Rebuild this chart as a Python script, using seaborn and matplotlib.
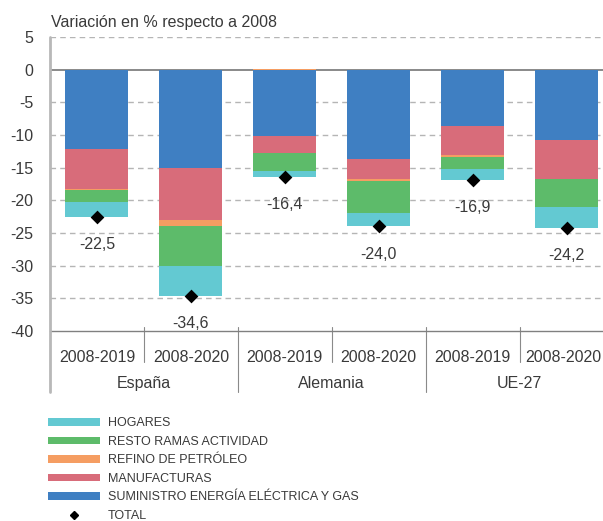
import numpy as np
import matplotlib
matplotlib.use("Agg")
import matplotlib.pyplot as plt
import matplotlib.transforms as mtransforms
import seaborn as sns
from matplotlib.patches import Patch
from matplotlib.lines import Line2D

# data (variación en % respecto a 2008)
groups = ["España", "Alemania", "UE-27"]
periods = ["2008-2019", "2008-2020"]
suministro = [-12.1, -15.0, -10.1, -13.6, -8.6, -10.8]
manufacturas = [-6.2, -8.0, -2.7, -3.1, -4.4, -5.9]
refino = [-0.05, -1.0, 0.15, -0.35, -0.4, -0.05]
resto = [-1.95, -6.0, -2.7, -4.9, -1.8, -4.3]
hogares = [-2.2, -4.6, -0.9, -2.05, -1.7, -3.15]
total = [-22.5, -34.6, -16.4, -24.0, -16.9, -24.2]

colors = {
    "HOGARES": "#63c9d2",
    "RESTO RAMAS ACTIVIDAD": "#5dbb6a",
    "REFINO DE PETRÓLEO": "#f59d62",
    "MANUFACTURAS": "#d86c7a",
    "SUMINISTRO ENERGÍA ELÉCTRICA Y GAS": "#3f7fc2",
}
txt = "#3a3a3a"
fs = 11.5

sns.set_style("white")
plt.rcParams["font.family"] = ["Liberation Sans", "DejaVu Sans"]

bar_ids = [f"{g} {p}" for g in groups for p in periods]

fig = plt.figure(figsize=(6.03, 5.21), dpi=100)
ax = fig.add_axes([50 / 603, 190 / 521, 563.5 / 603, 294 / 521])

# stack order from zero downwards
stack = [
    ("SUMINISTRO ENERGÍA ELÉCTRICA Y GAS", suministro),
    ("MANUFACTURAS", manufacturas),
    ("REFINO DE PETRÓLEO", refino),
    ("RESTO RAMAS ACTIVIDAD", resto),
    ("HOGARES", hogares),
]
neg = [np.minimum(np.array(v), 0) for _, v in stack]
cum = np.cumsum(neg, axis=0)
# draw deepest first so upper segments cover it
for i in range(len(stack) - 1, -1, -1):
    name = stack[i][0]
    sns.barplot(x=bar_ids, y=cum[i], color=colors[name], saturation=1,
                width=0.67, linewidth=0, errorbar=None, ax=ax, zorder=3)
# small positive part (refino, Alemania 2008-2019)
pos_ref = np.maximum(np.array(refino), 0)
sns.barplot(x=bar_ids, y=pos_ref, color=colors["REFINO DE PETRÓLEO"], saturation=1,
            width=0.67, linewidth=0, errorbar=None, ax=ax, zorder=3)

sns.stripplot(x=bar_ids, y=total, jitter=False, marker="D", color="black",
              size=7, ax=ax, zorder=5)
for i, v in enumerate(total):
    ax.annotate(f"{v:.1f}".replace(".", ","), (i, v), xytext=(0, -20),
                textcoords="offset points", ha="center", va="center",
                fontsize=fs, color=txt)

ax.set_xlim(-0.5, 5.5)
ax.set_ylim(-40, 5)
ax.set_yticks(range(-40, 6, 5))
ax.set_yticklabels([str(t) for t in range(-40, 6, 5)], fontsize=fs, color=txt)
for t in range(-35, 6, 5):
    if t == 0:
        ax.axhline(0, color="#808080", lw=1.3, zorder=2)
    else:
        ax.axhline(t, color="#b5b5b5", lw=1, ls=(0, (4, 3)), zorder=1)

ax.set_xticks(range(6))
ax.set_xticklabels([p for g in groups for p in periods], fontsize=fs, color=txt)
ax.tick_params(axis="x", length=0, pad=14)
ax.tick_params(axis="y", length=0, pad=12)
ax.set_xlabel("")
ax.set_ylabel("")
# last label sits at the figure edge: nudge it in a little
last = ax.get_xticklabels()[-1]
last.set_transform(last.get_transform() +
                   mtransforms.ScaledTranslation(-3 / 100, 0, fig.dpi_scale_trans))

for s in ["top", "right", "left"]:
    ax.spines[s].set_visible(False)
ax.spines["bottom"].set_color("#808080")
ax.spines["bottom"].set_linewidth(1)

tr = ax.get_xaxis_transform()
ax.plot([-0.5, -0.5], [1, -0.2075], transform=tr, color="#b8b8b8", lw=2,
        clip_on=False, zorder=4)
for k in range(1, 6):
    x = k - 0.5
    y1 = -0.2075 if k % 2 == 0 else -0.105
    ax.plot([x, x], [0.0136, y1], transform=tr, color="#8a8a8a", lw=0.8,
            clip_on=False)
for j, g in enumerate(groups):
    ax.text(2 * j + 0.5, -0.18, g, transform=tr, ha="center", va="center",
            fontsize=fs, color=txt)

fig.text(51 / 603, 1 - 22.7 / 521, "Variación en % respecto a 2008",
         ha="left", va="center", fontsize=fs, color=txt)

leg_names = ["HOGARES", "RESTO RAMAS ACTIVIDAD", "REFINO DE PETRÓLEO",
             "MANUFACTURAS", "SUMINISTRO ENERGÍA ELÉCTRICA Y GAS"]
handles = [Patch(facecolor=colors[n], edgecolor="none") for n in leg_names]
handles.append(Line2D([], [], ls="none", marker="D", color="black", markersize=4.5))
leg = fig.legend(handles, leg_names + ["TOTAL"], loc="upper left",
                 bbox_to_anchor=(48 / 603, 1 - 417.3 / 521), frameon=False,
                 borderpad=0, borderaxespad=0, handlelength=4.16,
                 handleheight=0.56, handletextpad=0.64, labelspacing=0.52,
                 prop={"family": "Liberation Sans", "size": 9})
for t in leg.get_texts():
    t.set_color(txt)

fig.savefig("out.png", dpi=100)
